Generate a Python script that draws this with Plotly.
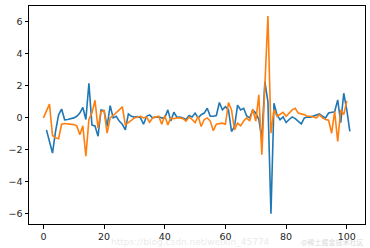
import plotly.graph_objects as go

orange_x = list(range(0, 101))
orange_y = [0.0, 0.4, 0.86, -1.1, -1.25, -1.3, -0.4, -0.35, -0.38, -0.4,
            -0.42, -0.5, -1.06, -0.5, -2.4, -0.1, 0.3, 1.1, -0.65, 0.4,
            0.45, -0.95, 0.0, 0.15, 0.3, 0.5, 0.7, -0.44, -0.3, -0.15,
            0.0, 0.05, 0.1, 0.0, 0.05, -0.27, 0.0, 0.05, 0.1, -0.4,
            0.15, -0.44, 0.0, -0.05, 0.0, 0.0, -0.05, -0.2, 0.05, -0.1,
            -0.3, 0.1, -0.54, -0.1, 0.0, -0.2, -0.8, -0.4, -0.35, -0.33,
            -0.4, 0.96, 0.5, -0.75, -0.33, -0.5, -0.2, 0.0, -0.2, 0.54,
            -0.2, 1.44, -2.3, 2.0, 6.37, -0.96, 0.5, 0.1, 0.25, 0.35,
            0.1, 0.3, 0.5, 0.6, 0.3, 0.25, 0.2, 0.1, 0.1, 0.05,
            0.0, 0.2, 0.0, -0.1, -0.15, -0.96, 0.4, -1.48, 0.5, 0.2,
            1.06]

blue_x = list(range(1, 102))
blue_y = [-0.75, -1.4, -2.2, -0.85, 0.19, 0.55, -0.12, -0.1, -0.05, 0.0,
          0.1, 0.3, 0.65, -0.1, 2.17, -0.45, -0.5, -1.15, 0.5, 0.45,
          -0.54, 0.77, 0.0, 0.1, -0.2, -0.4, -0.75, 0.25, 0.1, 0.05,
          0.08, 0.0, -0.4, 0.1, 0.19, 0.0, 0.05, 0.05, 0.0, 0.0,
          0.5, -0.19, 0.35, 0.04, 0.05, 0.0, -0.1, 0.15, 0.05, 0.3,
          0.0, 0.2, 0.3, 0.6, 0.1, 0.1, 0.15, 0.96, 0.5, 0.7,
          0.5, -0.85, -0.54, 0.8, 0.5, 0.6, 0.12, 0.0, 0.5, 0.3,
          -0.1, -1.3, 2.27, 1.0, -6.0, 0.92, 0.19, -0.12, 0.06, -0.29,
          -0.1, 0.06, -0.05, -0.2, -0.375, 0.0, 0.05, 0.05, 0.125, 0.15,
          0.25, 0.1, 0.0, 0.3, 0.33, 0.38, 1.125, -0.3, 1.54, 0.5,
          -0.85]

x_ticks = [0, 20, 40, 60, 80, 100]
y_ticks = [-6, -4, -2, 0, 2, 4, 6]

fig = go.Figure()
fig.add_trace(go.Scatter(x=blue_x, y=blue_y, mode="lines",
                         line=dict(color="#1f77b4", width=1.6), showlegend=False))
fig.add_trace(go.Scatter(x=orange_x, y=orange_y, mode="lines",
                         line=dict(color="#ff7f0e", width=1.6), showlegend=False))

axis_common = dict(showgrid=False, zeroline=False, showline=True, linecolor="black",
                   linewidth=1, mirror=True, ticks="outside", ticklen=3.5,
                   tickwidth=1, tickcolor="black",
                   tickfont=dict(family="DejaVu Sans", size=9.5, color="#262626"))

fig.update_xaxes(range=[-4.75, 106], tickvals=x_ticks, **axis_common)
fig.update_yaxes(range=[-6.64, 7.0], tickvals=y_ticks, **axis_common)

fig.add_annotation(text="https://blog.csdn.net/weixin_45774", xref="paper", yref="paper",
                   x=0.24, y=-0.112, yanchor="bottom", showarrow=False, xanchor="left",
                   borderpad=0,
                   font=dict(family="DejaVu Sans", size=9, color="rgba(200,200,200,0.4)"))
fig.add_annotation(text="@稀土掘金技术社区", xref="paper", yref="paper",
                   x=1.0, y=-0.112, yanchor="bottom", showarrow=False, xanchor="right",
                   borderpad=0,
                   font=dict(family="Noto Sans CJK SC", size=7, color="rgba(190,190,190,0.6)"))

fig.update_layout(width=370, height=248, margin=dict(l=29, r=5, t=6, b=24),
                  paper_bgcolor="white", plot_bgcolor="white")

fig.write_html("out.html")
